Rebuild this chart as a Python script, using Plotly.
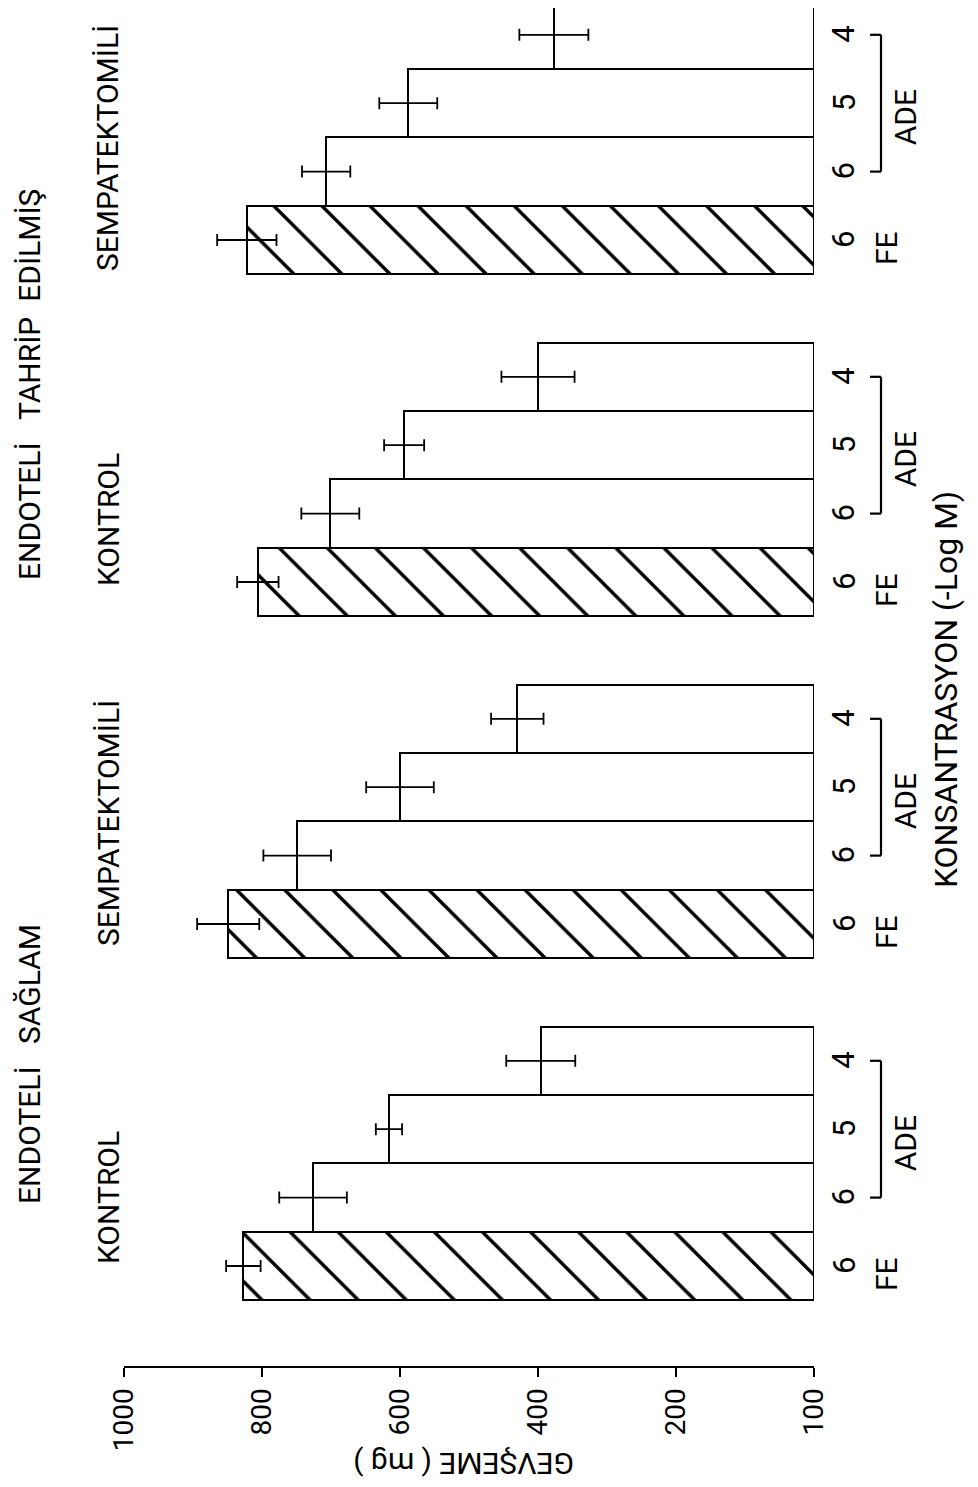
import plotly.graph_objects as go

# ---------------- data ----------------
NB = "\u00a0"
conditions = ["ENDOTELİ" + NB * 3 + "SAĞLAM",
              "ENDOTELİ" + NB * 3 + "TAHRİP" + NB * 2 + "EDİLMİŞ"]
group_names = ["KONTROL", "SEMPATEKTOMİLİ", "KONTROL", "SEMPATEKTOMİLİ"]
agents = ["FE", "ADE", "ADE", "ADE"]
concentrations = ["6", "6", "5", "4"]          # -log M

saglam_kontrol = [827, 726, 616, 396]
saglam_kontrol_err = [25, 49, 19, 50]
saglam_semp = [849, 749, 600, 430]
saglam_semp_err = [45, 49, 49, 38]
tahrip_kontrol = [806, 701, 594, 400]
tahrip_kontrol_err = [30, 42, 29, 53]
tahrip_semp = [822, 707, 588, 377]
tahrip_semp_err = [43, 35, 42, 50]

tick_values = [0, 200, 400, 600, 800, 1000]
tick_labels = ["100", "200", "400", "600", "800", "1000"]
value_title = "GEVŞEME ( mg )"
conc_title = "KONSANTRASYON (-Log M)"

group_values = [saglam_kontrol, saglam_semp, tahrip_kontrol, tahrip_semp]
group_errors = [saglam_kontrol_err, saglam_semp_err, tahrip_kontrol_err, tahrip_semp_err]

# ---------------- layout geometry (pixels) ----------------
W, H = 978, 1487
PL, PR, PT, PB = 116, 806, 0, 1358
SLOT_PX = 68.4
SLOT0_PX = 1258
SLOTS_PER_GROUP = 5

def paper_x(xp):
    return (xp - PL) / (PR - PL)

def paper_y(yp):
    return (PB - yp) / (PB - PT)

def slot_py(s):
    return SLOT0_PX - SLOT_PX * s

y_range = [(SLOT0_PX - PB) / SLOT_PX, (SLOT0_PX - PT) / SLOT_PX]

FONT = "Roboto, Liberation Sans, DejaVu Sans, sans-serif"

fe_y, fe_x, fe_e = [], [], []
ade_y, ade_x, ade_e = [], [], []
for g, (vals, errs) in enumerate(zip(group_values, group_errors)):
    for i, (v, e) in enumerate(zip(vals, errs)):
        s = g * SLOTS_PER_GROUP + i
        if agents[i] == "FE":
            fe_y.append(s); fe_x.append(v); fe_e.append(e)
        else:
            ade_y.append(s); ade_x.append(v); ade_e.append(e)

err_style = dict(type="data", symmetric=True, color="black", thickness=1.8, width=6)

fig = go.Figure()
fig.add_trace(go.Bar(
    y=fe_y, x=fe_x, orientation="h", width=1.0,
    marker=dict(color="white", line=dict(color="black", width=2),
                pattern=dict(shape="\\", fgcolor="black", fgopacity=1, bgcolor="white",
                             size=34, solidity=0.1)),
    error_x=dict(array=fe_e, **err_style),
    showlegend=False, hoverinfo="x",
))
fig.add_trace(go.Bar(
    y=ade_y, x=ade_x, orientation="h", width=1.0,
    marker=dict(color="white", line=dict(color="black", width=2)),
    error_x=dict(array=ade_e, **err_style),
    showlegend=False, hoverinfo="x",
))

annotations = []
shapes = []

def ann(text, xp, yp, size, angle=-90):
    annotations.append(dict(
        text=text, x=paper_x(xp), xref="paper",
        y=paper_y(yp), yref="paper", showarrow=False, textangle=angle,
        xanchor="center", yanchor="middle",
        font=dict(size=size, family=FONT, color="black")))

# condition titles
ann(conditions[0], 21, 1056, 30)
ann(conditions[1], 21, 377, 30)

# group names
group_label_py = [1190, 815, 512, 140]
for g, name in enumerate(group_names):
    ann(name, 100, group_label_py[g], 30)

# concentration labels, agent labels and ADE brackets
for g in range(4):
    base = g * SLOTS_PER_GROUP
    for i, c in enumerate(concentrations):
        ann(c, 836, slot_py(base + i), 31)
    ann("FE", 878, slot_py(base) + 8, 30)
    ann("ADE", 897, slot_py(base + 2) + 14, 30)
    y_top = paper_y(slot_py(base + 3))
    y_bot = paper_y(slot_py(base + 1))
    bx, tx = paper_x(873), paper_x(862)
    line = dict(color="black", width=2.2)
    shapes.append(dict(type="line", xref="paper", yref="paper", x0=bx, x1=bx, y0=y_bot, y1=y_top, line=line))
    shapes.append(dict(type="line", xref="paper", yref="paper", x0=tx, x1=bx, y0=y_bot, y1=y_bot, line=line))
    shapes.append(dict(type="line", xref="paper", yref="paper", x0=tx, x1=bx, y0=y_top, y1=y_top, line=line))

ann(conc_title, 938, 682, 32)
ann(value_title, 456, 1456, 30, angle=180)

fig.update_layout(
    width=W, height=H,
    margin=dict(l=PL, r=W - PR, t=PT, b=H - PB, pad=0),
    paper_bgcolor="white", plot_bgcolor="white",
    barmode="overlay", bargap=0,
    xaxis=dict(range=[1000, 0], tickvals=tick_values, ticktext=tick_labels,
               tickangle=-90, ticks="outside", ticklen=9, tickwidth=2, tickcolor="black",
               showline=True, linecolor="black", linewidth=2, showgrid=False, zeroline=False,
               tickfont=dict(size=28, family=FONT, color="black"), automargin=False,
               fixedrange=True),
    yaxis=dict(range=y_range, visible=False, showgrid=False, zeroline=False, fixedrange=True),
    annotations=annotations, shapes=shapes,
)

fig.write_html("out.html")
